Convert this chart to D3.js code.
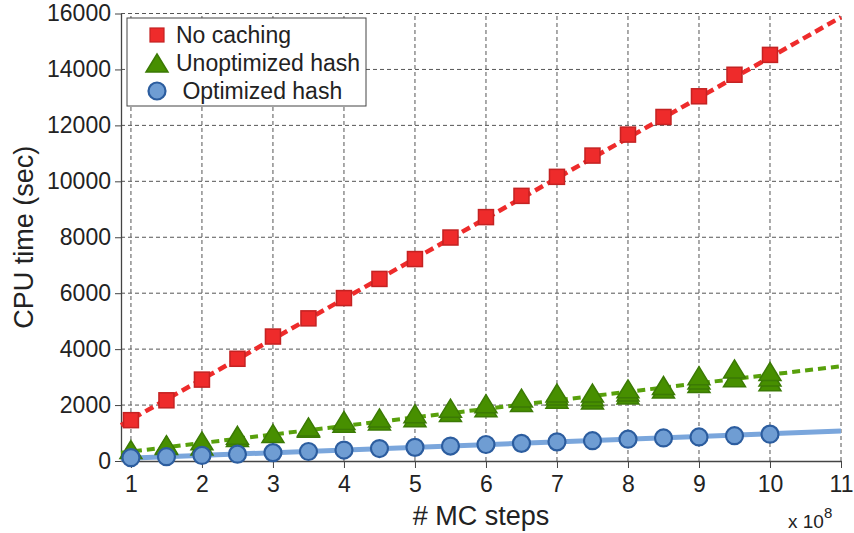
<!DOCTYPE html>
<html>
<head>
<meta charset="utf-8">
<script src="https://cdn.jsdelivr.net/npm/d3@7"></script>
<style>
  body { margin: 0; background: #fff; }
  text { font-family: "Liberation Sans", Arial, sans-serif; fill: #222; }
</style>
</head>
<body>
<div id="chart"></div>
<script>
// MC steps (x 10^8)
const steps = [1, 1.5, 2, 2.5, 3, 3.5, 4, 4.5, 5, 5.5, 6, 6.5, 7, 7.5, 8, 8.5, 9, 9.5, 10];
// CPU time (sec)
const noCaching = [1460, 2170, 2910, 3655, 4450, 5100, 5825, 6510, 7220, 7990, 8720, 9480, 10160, 10920, 11670, 12300, 13040, 13810, 14520];
const unoptimized = [
  [410], [555, 585], [540, 720], [840, 920], [985], [1170, 1220], [1350, 1450],
  [1430, 1540], [1550, 1690], [1730, 1890], [1900, 2050], [2090, 2250],
  [2210, 2320, 2430], [2180, 2300, 2430], [2360, 2470, 2580], [2570, 2700],
  [2770, 2900, 3050], [2980, 3290], [2830, 3000, 3200]
];
const optimized = [120, 155, 200, 245, 300, 340, 392, 445, 488, 534, 590, 630, 685, 725, 780, 825, 860, 905, 960];
// linear fits, drawn across the x range
const fitX = [0.86, 11];
const noCachingFit = [1280, 15870];
const unoptimizedFit = [295, 3390];
const optimizedFit = [90, 1070];

const xTicks = [1, 2, 3, 4, 5, 6, 7, 8, 9, 10, 11];
const yTicks = [0, 2000, 4000, 6000, 8000, 10000, 12000, 14000, 16000];
const legendNames = ['No caching', 'Unoptimized hash', ' Optimized hash'];

const width = 854, height = 533;
const margin = {left: 121, right: 13, top: 13.5, bottom: 72};

const svg = d3.select('#chart').append('svg')
  .attr('width', width)
  .attr('height', height);

const xScale = d3.scaleLinear().domain([fitX[0], 11]).range([margin.left, width - margin.right]);
const yScale = d3.scaleLinear().domain([0, 16000]).range([height - margin.bottom, margin.top]);

// grid
const grid = svg.append('g').attr('class', 'grid')
  .attr('stroke', '#555').attr('stroke-width', 1).attr('stroke-dasharray', '4,3');
grid.selectAll('.vgrid').data(xTicks).join('line')
  .attr('class', 'vgrid')
  .attr('x1', d => xScale(d)).attr('x2', d => xScale(d))
  .attr('y1', yScale(0)).attr('y2', yScale(16000));
grid.selectAll('.hgrid').data(yTicks.filter(d => d > 0)).join('line')
  .attr('class', 'hgrid')
  .attr('x1', xScale(fitX[0])).attr('x2', xScale(11))
  .attr('y1', d => yScale(d)).attr('y2', d => yScale(d));

// axes
const xAxis = d3.axisBottom(xScale).tickValues(xTicks).tickSizeInner(7).tickSizeOuter(0).tickPadding(8);
const yAxis = d3.axisLeft(yScale).tickValues(yTicks).tickFormat(d3.format('d'))
  .tickSizeInner(6).tickSizeOuter(0).tickPadding(4);
const xAxisG = svg.append('g')
  .attr('transform', `translate(0, ${yScale(0)})`)
  .call(xAxis);
const yAxisG = svg.append('g')
  .attr('transform', `translate(${xScale(fitX[0])}, 0)`)
  .call(yAxis);
[xAxisG, yAxisG].forEach(g => {
  g.select('.domain').attr('stroke', '#444').attr('stroke-width', 1.3);
  g.selectAll('.tick line').attr('stroke', '#444');
  g.selectAll('.tick text').attr('font-size', 23).attr('fill', '#222')
    .attr('font-family', '"Liberation Sans", Arial, sans-serif');
});

// fit lines
const line = d3.line().x(d => xScale(d[0])).y(d => yScale(d[1]));
const fits = [
  {vals: optimizedFit, color: '#7aa6dc', width: 5, dash: null},
  {vals: unoptimizedFit, color: '#58a00c', width: 4, dash: '8,5'},
  {vals: noCachingFit, color: '#ee2b2b', width: 4.5, dash: '9,5'}
];
svg.selectAll('.fit').data(fits).join('path')
  .attr('class', 'fit')
  .attr('d', d => line(fitX.map((x, i) => [x, d.vals[i]])))
  .attr('fill', 'none')
  .attr('stroke', d => d.color)
  .attr('stroke-width', d => d.width)
  .attr('stroke-dasharray', d => d.dash);

// markers
const triPath = 'M0,-9L11,9L-11,9Z';
svg.selectAll('.sq').data(steps.map((s, i) => [s, noCaching[i]])).join('rect')
  .attr('class', 'sq')
  .attr('x', d => xScale(d[0]) - 7.5).attr('y', d => yScale(d[1]) - 7.5)
  .attr('width', 15).attr('height', 15)
  .attr('fill', '#ee2b2b').attr('stroke', '#c42222').attr('stroke-width', 1.5);

const triData = [];
steps.forEach((s, i) => unoptimized[i].forEach(v => triData.push([s, v])));
svg.selectAll('.tri').data(triData).join('path')
  .attr('class', 'tri')
  .attr('d', triPath)
  .attr('transform', d => `translate(${xScale(d[0])}, ${yScale(d[1])})`)
  .attr('fill', '#478f00').attr('stroke', '#3b7a04').attr('stroke-width', 1.5);

svg.selectAll('.circ').data(steps.map((s, i) => [s, optimized[i]])).join('circle')
  .attr('class', 'circ')
  .attr('cx', d => xScale(d[0])).attr('cy', d => yScale(d[1]))
  .attr('r', 8.5)
  .attr('fill', '#6f9dd3').attr('stroke', '#2c5d9f').attr('stroke-width', 2.2);

// legend
const legend = svg.append('g').attr('transform', 'translate(127, 18)');
legend.append('rect')
  .attr('width', 239).attr('height', 88)
  .attr('fill', '#fff').attr('stroke', '#444').attr('stroke-width', 1);
const rowY = [17, 45, 73];
legend.append('rect').attr('x', 30 - 7).attr('y', rowY[0] - 7).attr('width', 14).attr('height', 14)
  .attr('fill', '#ee2b2b').attr('stroke', '#c42222').attr('stroke-width', 1.2);
legend.append('path').attr('d', triPath).attr('transform', `translate(30, ${rowY[1]})`)
  .attr('fill', '#478f00').attr('stroke', '#3b7a04').attr('stroke-width', 1.5);
legend.append('circle').attr('cx', 30).attr('cy', rowY[2]).attr('r', 8.5)
  .attr('fill', '#6f9dd3').attr('stroke', '#2c5d9f').attr('stroke-width', 2.2);
legend.selectAll('.ltext').data(legendNames).join('text')
  .attr('class', 'ltext')
  .attr('x', 49).attr('y', (d, i) => rowY[i])
  .attr('dy', '0.36em')
  .attr('font-size', 23)
  .attr('xml:space', 'preserve')
  .style('white-space', 'pre')
  .text(d => d);

// axis titles
svg.append('text')
  .attr('transform', `translate(33, ${(yScale(0) + yScale(16000)) / 2}) rotate(-90)`)
  .attr('text-anchor', 'middle')
  .attr('font-size', 27)
  .text('CPU time (sec)');
svg.append('text')
  .attr('x', (xScale(fitX[0]) + xScale(11)) / 2)
  .attr('y', 525)
  .attr('text-anchor', 'middle')
  .attr('font-size', 27)
  .text('# MC steps');
const expo = svg.append('text')
  .attr('x', 788).attr('y', 528)
  .attr('font-size', 19);
expo.append('tspan').text('x 10');
expo.append('tspan').attr('dy', -10).attr('font-size', 15).text('8');
</script>
</body>
</html>
